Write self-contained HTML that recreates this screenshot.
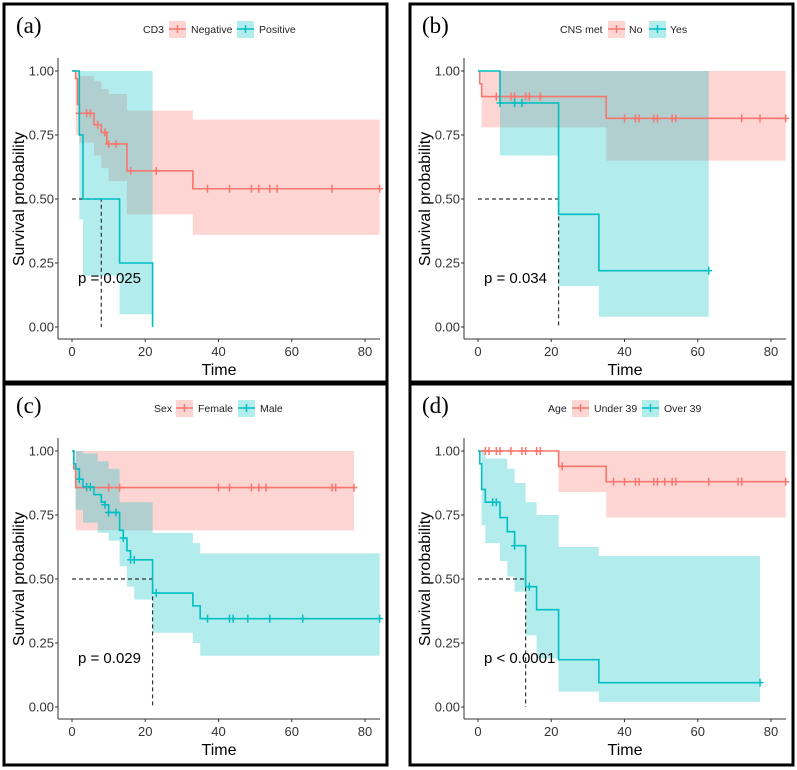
<!DOCTYPE html>
<html><head><meta charset="utf-8">
<style>
html,body{margin:0;padding:0;background:#fff;}
svg{display:block;font-family:"Liberation Sans",sans-serif;}
</style></head>
<body>
<svg id="fig" width="797" height="770" viewBox="0 0 797 770" xmlns="http://www.w3.org/2000/svg"></svg>
<script>
// ---- Panel (a) CD3 ----
const aNegT=[0,1,1.5,2,6,8,9.5,15,33], aNegS=[1,0.97,0.87,0.835,0.79,0.76,0.715,0.61,0.54], aNegEnd=84;
const aNegBT=[1,2,6,8,10,15,33], aNegLo=[0.75,0.72,0.67,0.62,0.57,0.44,0.36], aNegHi=[1,0.98,0.96,0.93,0.91,0.845,0.81], aNegBEnd=84;
const aNegCens=[2,4,5,7,9,10,12,16,23,37,43,49,51,54,56,71,84];
const aPosT=[0,2,3,13,22], aPosS=[1,0.75,0.5,0.25,0], aPosEnd=22;
const aPosBT=[0,2,3,13], aPosLo=[1,0.42,0.2,0.05], aPosHi=[1,1,1,1], aPosBEnd=22;
const aPosCens=[];
// ---- Panel (b) CNS met ----
const bNoT=[0,0.5,1,35], bNoS=[1,0.95,0.9,0.815], bNoEnd=84;
const bNoBT=[1,35], bNoLo=[0.78,0.65], bNoHi=[1,1], bNoBEnd=84;
const bNoCens=[5,9,10,13,14,17,40,43,44,48,49,53,54,72,77,84];
const bYesT=[0,6,22,33], bYesS=[1,0.875,0.44,0.22], bYesEnd=63;
const bYesBT=[6,22,33], bYesLo=[0.67,0.16,0.04], bYesHi=[1,1,1], bYesBEnd=63;
const bYesCens=[6,10,12,63];
// ---- Panel (c) Sex ----
const cFemT=[0,0.5,1], cFemS=[1,0.93,0.857], cFemEnd=77;
const cFemBT=[1], cFemLo=[0.69], cFemHi=[1], cFemBEnd=77;
const cFemCens=[4,10,13,40,43,49,51,53,71,72,77];
const cMalT=[0,0.5,1,2,3,6,8,9,10,13,14,15,16,22,33,35], cMalS=[1,0.95,0.93,0.89,0.86,0.83,0.8,0.79,0.76,0.69,0.66,0.61,0.575,0.445,0.395,0.345], cMalEnd=84;
const cMalBT=[1,3,7,10,13,15,17,22,33,35], cMalLo=[0.77,0.72,0.68,0.65,0.55,0.47,0.42,0.29,0.25,0.2], cMalHi=[1,0.99,0.96,0.93,0.8,0.8,0.8,0.68,0.64,0.6], cMalBEnd=84;
const cMalCens=[2,4,5,9,10,12,14,16,17,23,37,43,44,48,54,63,84];
// ---- Panel (d) Age ----
const dUndT=[0,22,35], dUndS=[1,0.94,0.88], dUndEnd=84;
const dUndBT=[22,35], dUndLo=[0.84,0.74], dUndHi=[1,1], dUndBEnd=84;
const dUndCens=[2,3,5,6,9,12,13,16,17,23,37,40,43,44,48,49,51,53,54,63,71,72,84];
const dOvrT=[0,0.5,1,2,6,8,10,13,16,22,33], dOvrS=[1,0.95,0.85,0.8,0.74,0.685,0.63,0.47,0.38,0.185,0.095], dOvrEnd=77;
const dOvrBT=[1,2,6,8,10,13,16,22,33], dOvrLo=[0.71,0.64,0.57,0.51,0.45,0.28,0.19,0.06,0.02], dOvrHi=[1,0.97,0.97,0.93,0.875,0.8,0.75,0.625,0.59], dOvrBEnd=77;
const dOvrCens=[4,5,10,14,77];
const xTicks=[0,20,40,60,80], yTicks=[0,0.25,0.5,0.75,1];
const yTickLabels=["0.00","0.25","0.50","0.75","1.00"];

const RED="#F8766D", TEAL="#00BFC4";
const svg=document.getElementById('fig');
const NS="http://www.w3.org/2000/svg";
function mk(tag,attrs,parent,text){const e=document.createElementNS(NS,tag);for(const k in attrs)e.setAttribute(k,attrs[k]);if(text!==undefined)e.textContent=text;(parent||svg).appendChild(e);return e;}
function stepAt(T,S,t){let v=S[0];for(let i=0;i<T.length;i++){if(T[i]<=t)v=S[i];}return v;}

const panels=[
 {tag:"(a)",bx:4,by:4,bw:383,bh:378,ox:0,oy:0,var:"CD3",n1:"Negative",n2:"Positive",lg:[143,169,191,237,259],p:"p = 0.025",med:8,
  s1:[aNegT,aNegS,aNegEnd,aNegBT,aNegLo,aNegHi,aNegBEnd,aNegCens],s2:[aPosT,aPosS,aPosEnd,aPosBT,aPosLo,aPosHi,aPosBEnd,aPosCens]},
 {tag:"(b)",bx:410,by:4,bw:383,bh:378,ox:406,oy:0,var:"CNS met",n1:"No",n2:"Yes",lg:[560,608,629,649,670],p:"p = 0.034",med:22,
  s1:[bNoT,bNoS,bNoEnd,bNoBT,bNoLo,bNoHi,bNoBEnd,bNoCens],s2:[bYesT,bYesS,bYesEnd,bYesBT,bYesLo,bYesHi,bYesBEnd,bYesCens]},
 {tag:"(c)",bx:4,by:384,bw:383,bh:381,ox:0,oy:380,var:"Sex",n1:"Female",n2:"Male",lg:[154,176,198,238,260],p:"p = 0.029",med:22,
  s1:[cFemT,cFemS,cFemEnd,cFemBT,cFemLo,cFemHi,cFemBEnd,cFemCens],s2:[cMalT,cMalS,cMalEnd,cMalBT,cMalLo,cMalHi,cMalBEnd,cMalCens]},
 {tag:"(d)",bx:410,by:384,bw:383,bh:381,ox:406,oy:380,var:"Age",n1:"Under 39",n2:"Over 39",lg:[548,572,594,642,664],p:"p < 0.0001",med:13,
  s1:[dUndT,dUndS,dUndEnd,dUndBT,dUndLo,dUndHi,dUndBEnd,dUndCens],s2:[dOvrT,dOvrS,dOvrEnd,dOvrBT,dOvrLo,dOvrHi,dOvrBEnd,dOvrCens]}
];

panels.forEach((P,pi)=>{
  const g=mk('g',{});
  
  
  const X0=72+P.ox, X80=365+P.ox, Y1=71+P.oy, Y0=327+P.oy;
  const xs=t=>X0+(X80-X0)*t/80, ys=v=>Y0-(Y0-Y1)*v;
  const border=mk('rect',{x:P.bx,y:P.by,width:P.bw,height:P.bh,fill:'none',stroke:'#000','stroke-width':3},g);
  
  
  const tg=mk('text',{x:P.bx+12,y:P.by+29,'font-family':'"Liberation Serif",serif','font-size':23,fill:'#000'},g,P.tag);
  
  
  // bands
  [[P.s1,RED],[P.s2,TEAL]].forEach(([s,col],si)=>{
    const [T,S,E,BT,LO,HI,BE]=s;
    let d="";
    for(let i=0;i<BT.length;i++){const a=BT[i],b=i<BT.length-1?BT[i+1]:BE;
      d+=(i?"L":"M")+xs(a)+","+ys(HI[i])+"L"+xs(b)+","+ys(HI[i]);}
    for(let i=BT.length-1;i>=0;i--){const a=BT[i],b=i<BT.length-1?BT[i+1]:BE;d+="L"+xs(b)+","+ys(LO[i])+"L"+xs(a)+","+ys(LO[i]);}
    d+="Z";
    const band=mk('path',{d:d,fill:col,'fill-opacity':0.3,stroke:'none'},g);
    
    
  });
  // median lines
  const mh=mk('path',{d:"M"+xs(0)+","+ys(0.5)+"L"+xs(P.med)+","+ys(0.5)+"L"+xs(P.med)+","+ys(0),fill:'none',stroke:'#333','stroke-width':1.2,'stroke-dasharray':'4,3'},g);
  
  
  // curves
  [[P.s1,RED],[P.s2,TEAL]].forEach(([s,col],si)=>{
    const [T,S,E,,,,,C]=s;
    let d="M"+xs(T[0])+","+ys(S[0]);
    for(let i=1;i<T.length;i++){d+="L"+xs(T[i])+","+ys(S[i-1])+"L"+xs(T[i])+","+ys(S[i]);}
    d+="L"+xs(E)+","+ys(S[S.length-1]);
    const c=mk('path',{d:d,fill:'none',stroke:col,'stroke-width':1.6},g);
    
    
    C.forEach(t=>{const v=stepAt(T,S,t),x=xs(t),y=ys(v);
      const m=mk('path',{d:`M${x-3.5},${y}L${x+3.5},${y}M${x},${y-4}L${x},${y+4}`,stroke:col,'stroke-width':1.5},g);
      
      });
  });
  // axes
  const AX=X0-14, AY=Y0+12;
  const ya=mk('line',{x1:AX,y1:Y1-13,x2:AX,y2:AY,stroke:'#333','stroke-width':1},g);
  
  
  const xa=mk('line',{x1:AX,y1:AY,x2:X80+15,y2:AY,stroke:'#333','stroke-width':1},g);
  
  
  yTicks.forEach((v,i)=>{mk('line',{x1:AX-3,y1:ys(v),x2:AX,y2:ys(v),stroke:'#333'},g);
    const t=mk('text',{x:AX-4,y:ys(v)+4.5,'text-anchor':'end','font-size':13,fill:'#333'},g,yTickLabels[i]);
    
    });
  xTicks.forEach(v=>{mk('line',{x1:xs(v),y1:AY,x2:xs(v),y2:AY+3,stroke:'#333'},g);
    const t=mk('text',{x:xs(v),y:AY+17,'text-anchor':'middle','font-size':13,fill:'#333'},g,String(v));
    
    });
  const xt=mk('text',{x:(AX+X80+15)/2,y:AY+36,'text-anchor':'middle','font-size':16,fill:'#000'},g,"Time");
  
  
  const yt=mk('text',{x:0,y:0,'text-anchor':'middle','font-size':16,fill:'#000',transform:`translate(${24+P.ox},${(Y0+Y1)/2}) rotate(-90)`},g,"Survival probability");
  
  
  const pv=mk('text',{x:X0+6,y:Y0-44,'font-size':15,fill:'#000'},g,P.p);
  
  
  // legend
  const LY=(pi<2?29:408);
  const lt=mk('text',{x:P.lg[0],y:LY+4,'font-size':10.5,fill:'#222'},g,P.var);
  
  
  [[P.lg[1],P.lg[2],RED,P.n1],[P.lg[3],P.lg[4],TEAL,P.n2]].forEach(([bx,tx,col,name])=>{
    const lg=mk('g',{},g);
    
    
    mk('rect',{x:bx,y:LY-8,width:17,height:17,fill:col,'fill-opacity':0.3},lg);
    mk('path',{d:`M${bx},${LY}L${bx+17},${LY}M${bx+8.5},${LY-4}L${bx+8.5},${LY+4}`,stroke:col,'stroke-width':1.5},lg);
    mk('text',{x:tx,y:LY+4,'font-size':10.5,fill:'#222'},lg,name);
  });
});
</script>
</body></html>
